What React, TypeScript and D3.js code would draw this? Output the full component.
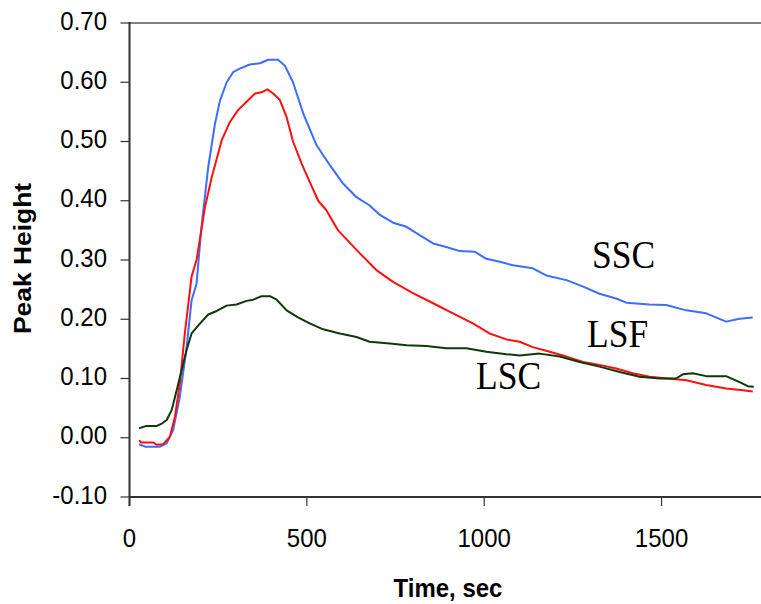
import React from "react";
import * as d3 from "d3";

const sscTime = [27,44,86,105,123,142,161,175,189,203,222,241,255,274,292,311,339,368,391,419,438,461,490,527,565,602,640,677,706,743,781,818,856,893,931,973,1006,1044,1081,1137,1175,1232,1279,1325,1372,1401,1466,1513,1570,1626,1682,1720,1757];
const sscValues = [-0.011,-0.015,-0.015,-0.009,0.013,0.069,0.153,0.232,0.26,0.356,0.457,0.530,0.569,0.600,0.617,0.623,0.630,0.632,0.638,0.638,0.628,0.600,0.547,0.494,0.460,0.429,0.406,0.392,0.376,0.363,0.356,0.342,0.328,0.322,0.315,0.314,0.302,0.297,0.291,0.286,0.274,0.266,0.255,0.243,0.235,0.228,0.225,0.224,0.215,0.210,0.196,0.201,0.203];

const lsfTime = [27,33,67,77,95,114,128,142,156,175,189,213,232,260,283,306,330,354,372,389,405,424,443,461,485,508,532,555,588,640,696,743,799,856,912,968,1015,1063,1100,1137,1185,1232,1279,1325,1372,1419,1466,1532,1570,1626,1682,1729,1757];
const lsfValues = [-0.004,-0.008,-0.008,-0.012,-0.011,0.002,0.035,0.092,0.176,0.272,0.300,0.390,0.440,0.502,0.533,0.553,0.567,0.581,0.583,0.588,0.581,0.570,0.541,0.500,0.463,0.432,0.400,0.384,0.350,0.317,0.283,0.263,0.244,0.227,0.210,0.193,0.176,0.166,0.162,0.153,0.145,0.137,0.128,0.123,0.117,0.109,0.103,0.099,0.097,0.089,0.083,0.080,0.078];

const lscTime = [27,48,77,91,105,119,133,147,161,175,199,222,246,274,302,330,349,372,396,415,443,475,508,546,593,640,677,734,781,837,893,950,1006,1063,1100,1156,1213,1269,1325,1382,1438,1494,1541,1560,1588,1626,1682,1720,1743,1760];
const lscValues = [0.016,0.020,0.020,0.024,0.030,0.047,0.080,0.114,0.148,0.176,0.193,0.208,0.214,0.223,0.225,0.231,0.233,0.239,0.239,0.233,0.215,0.203,0.193,0.183,0.176,0.170,0.162,0.159,0.156,0.155,0.151,0.151,0.145,0.141,0.139,0.142,0.137,0.128,0.120,0.111,0.103,0.100,0.100,0.107,0.109,0.104,0.104,0.094,0.087,0.086];

const xTicks = [0, 500, 1000, 1500];
const yTicks = [-0.1, 0, 0.1, 0.2, 0.3, 0.4, 0.5, 0.6, 0.7];
const seriesNames = ["SSC", "LSF", "LSC"];
const xTitle = "Time, sec";
const yTitle = "Peak Height";

const W = 761;
const H = 604;
const SANS = '"Liberation Sans", Arial, sans-serif';
const SERIF = '"Liberation Serif", "Times New Roman", serif';

export default function App() {
  const x = d3.scaleLinear().domain([0, 1800]).range([129.5, 129.5 + 1800 * 0.3547]);
  const y = d3.scaleLinear().domain([-0.1, 0.7]).range([497, 23]);

  const mk = (t: number[], v: number[]) =>
    d3.line<number>().x((_, i) => x(t[i])).y((d) => y(d))(v) || "";

  const series = [
    { name: seriesNames[0], path: mk(sscTime, sscValues), color: "#3d6dff", lx: 592, ly: 268 },
    { name: seriesNames[1], path: mk(lsfTime, lsfValues), color: "#ff1010", lx: 587, ly: 347 },
    { name: seriesNames[2], path: mk(lscTime, lscValues), color: "#0c3a0c", lx: 476, ly: 389 },
  ];

  const x0 = x(0);
  const yBottom = y(-0.1);
  const yTop = y(0.7);

  return (
    <svg
      width={W}
      height={H}
      style={{ position: "absolute", left: 0, top: 0, background: "#fff" }}
    >
      <rect x={0} y={0} width={W} height={H} fill="#fff" />
      {/* top border line */}
      <line x1={x0} x2={W} y1={yTop} y2={yTop} stroke="#808080" strokeWidth={2} />

      {/* curves */}
      {series.map((s) => (
        <path key={s.name} d={s.path} fill="none" stroke={s.color} strokeWidth={2} strokeLinejoin="round" />
      ))}

      {/* y axis */}
      <line x1={x0} x2={x0} y1={yTop - 1} y2={yBottom + 9} stroke="#333" strokeWidth={2} />
      {yTicks.map((v) => (
        <g key={v}>
          <line x1={x0 - 9} x2={x0} y1={y(v)} y2={y(v)} stroke="#333" strokeWidth={1.2} />
          <text
            transform={`translate(107, ${y(v) + 6.5}) scale(1,1.1)`}
            textAnchor="end"
            fontFamily={SANS}
            fontSize={24}
            fill="#000"
          >
            {v.toFixed(2)}
          </text>
        </g>
      ))}

      {/* x axis */}
      <line x1={x0} x2={x(1800)} y1={yBottom} y2={yBottom} stroke="#333" strokeWidth={2} />
      {xTicks.map((t) => (
        <g key={t}>
          <line x1={x(t)} x2={x(t)} y1={yBottom} y2={yBottom + 9} stroke="#333" strokeWidth={1.2} />
          <text
            transform={`translate(${x(t)}, 547) scale(1,1.1)`}
            textAnchor="middle"
            fontFamily={SANS}
            fontSize={24}
            fill="#000"
          >
            {t}
          </text>
        </g>
      ))}

      {/* axis titles */}
      <text
        transform="translate(448, 597) scale(1,1.1)"
        textAnchor="middle"
        fontFamily={SANS}
        fontWeight="bold"
        fontSize={24}
        fill="#000"
      >
        {xTitle}
      </text>
      <text
        transform="translate(31, 258.5) scale(1,1.1) rotate(-90)"
        textAnchor="middle"
        fontFamily={SANS}
        fontWeight="bold"
        fontSize={24}
        fill="#000"
      >
        {yTitle}
      </text>

      {/* series labels */}
      {series.map((s) => (
        <text
          key={"l" + s.name}
          transform={`translate(${s.lx}, ${s.ly}) scale(1,1.1)`}
          fontFamily={SERIF}
          fontSize={35.5}
          fill="#000"
        >
          {s.name}
        </text>
      ))}
    </svg>
  );
}
